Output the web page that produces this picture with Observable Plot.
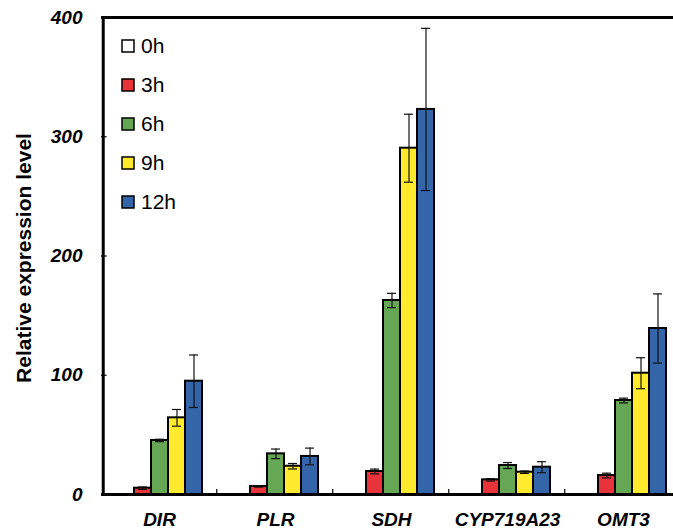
<!DOCTYPE html>
<html><head><meta charset="utf-8">
<script src="https://cdn.jsdelivr.net/npm/d3@7"></script>
<script src="https://cdn.jsdelivr.net/npm/@observablehq/plot@0.6"></script>
<style>
html,body{margin:0;padding:0;background:#fff;overflow:hidden;}
#wrap{position:relative;width:673px;height:531px;overflow:hidden;}
#chart svg{max-width:none !important;}
#legend{position:absolute;left:122px;top:26.5px;}
#legend > div{display:flex !important;flex-direction:column !important;align-items:flex-start !important;margin:0 !important;min-height:0 !important;font:21px "Liberation Sans",Arial,sans-serif !important;color:#000;}
#legend span{display:flex !important;align-items:center !important;height:38.9px;margin:0 !important;}
#legend span svg{overflow:visible;margin-right:7px !important;}
#legend span svg rect{stroke:#000;stroke-width:1.5px;}
</style></head>
<body><div id="wrap"><div id="chart"></div><div id="legend"></div></div>
<script>
const genes = ["DIR", "PLR", "SDH", "CYP719A23", "OMT3"];
const times = ["0h", "3h", "6h", "9h", "12h"];
const colors = ["#ffffff", "#e8333a", "#66a755", "#ffea2e", "#3465a8"];
const yTicks = [0, 100, 200, 300, 400];
const yLabel = "Relative expression level";

const mean0h = [0, 0, 0, 0, 0];
const mean3h = [5.3, 6.7, 19.3, 12.3, 15.9];
const mean6h = [45.3, 34.1, 162.7, 24.3, 78.8];
const mean9h = [64.3, 23.7, 290.4, 18.7, 101.7];
const mean12h = [95, 31.9, 322.9, 22.9, 139.2];

const err0h = [0, 0, 0, 0, 0];
const err3h = [1, 0.5, 2, 1, 2];
const err6h = [1, 4, 6, 2.5, 2];
const err9h = [7, 2.3, 28.5, 1, 13];
const err12h = [22, 7, 68, 4.6, 29];

const means = [mean0h, mean3h, mean6h, mean9h, mean12h];
const errs = [err0h, err3h, err6h, err9h, err12h];
const data = [];
times.forEach((t, ti) => genes.forEach((g, gi) => {
  data.push({gene: g, time: t, value: means[ti][gi], err: errs[ti][gi]});
}));
const errData = data.filter(d => d.err > 0);

// layout
const fxRange = [100, 682];
const pOuter = 0.785;
const facetW = (fxRange[1] - fxRange[0]) / genes.length;
const step = facetW / (times.length + 2 * pOuter);
const edge = step * (0.5 + pOuter);
const first = () => genes[0];
const font = "Liberation Sans, Arial, sans-serif";

const chart = Plot.plot({
  width: 673, height: 531,
  marginLeft: 100, marginRight: 0, marginTop: 17, marginBottom: 37,
  style: {fontFamily: font, color: "#000", background: "transparent"},
  fx: {domain: genes, range: fxRange, padding: 0, label: null},
  x: {domain: times, paddingInner: 0, paddingOuter: pOuter, axis: null},
  y: {domain: [0, 400], label: null},
  color: {domain: times, range: colors},
  marks: [
    Plot.barY(data, {fx: "gene", x: "time", y: "value", fill: "time", stroke: "#000", strokeWidth: 2}),
    Plot.ruleX(errData, {fx: "gene", x: "time", y1: d => d.value - d.err, y2: d => d.value + d.err, stroke: "#111", strokeWidth: 1.2}),
    Plot.tickY(errData, {fx: "gene", x: "time", y: d => d.value + d.err, insetLeft: 4, insetRight: 4, stroke: "#111", strokeWidth: 1.2}),
    Plot.tickY(errData, {fx: "gene", x: "time", y: d => d.value - d.err, insetLeft: 4, insetRight: 4, stroke: "#111", strokeWidth: 1.2}),
    Plot.ruleY([400], {stroke: "#000", strokeWidth: 3}),
    Plot.ruleY([0], {stroke: "#000", strokeWidth: 3}),
    Plot.ruleX(["12h"], {x: d => d, dx: edge, y1: 0, y2: 4.2, stroke: "#000", strokeWidth: 1.2}),
    Plot.ruleX([genes[0]], {fx: d => d, x: () => "0h", dx: -edge, stroke: "#000", strokeWidth: 3}),
    Plot.tickY(yTicks, {fx: first, y: d => d, insetRight: facetW - 6, stroke: "#000", strokeWidth: 1.2}),
    Plot.axisY({ticks: yTicks, tickSize: 0, tickPadding: 19, label: null, fontSize: 19, fontWeight: "bold", fontStyle: "italic"}),
    Plot.axisFx({anchor: "bottom", tickSize: 0, tickPadding: 18, label: null, fontSize: 19, fontWeight: "bold", fontStyle: "italic"}),
    Plot.text([yLabel], {fx: first, text: d => d, frameAnchor: "left", textAnchor: "middle", lineAnchor: "middle", rotate: -90, dx: -77, dy: 2, fontSize: 21, fontWeight: "bold", fill: "#000"})
  ]
});
document.getElementById("chart").appendChild(chart);

const legend = Plot.legend({color: {domain: times, range: colors}, legend: "swatches", swatchSize: 12});
document.getElementById("legend").appendChild(legend);
</script>
</body></html>
